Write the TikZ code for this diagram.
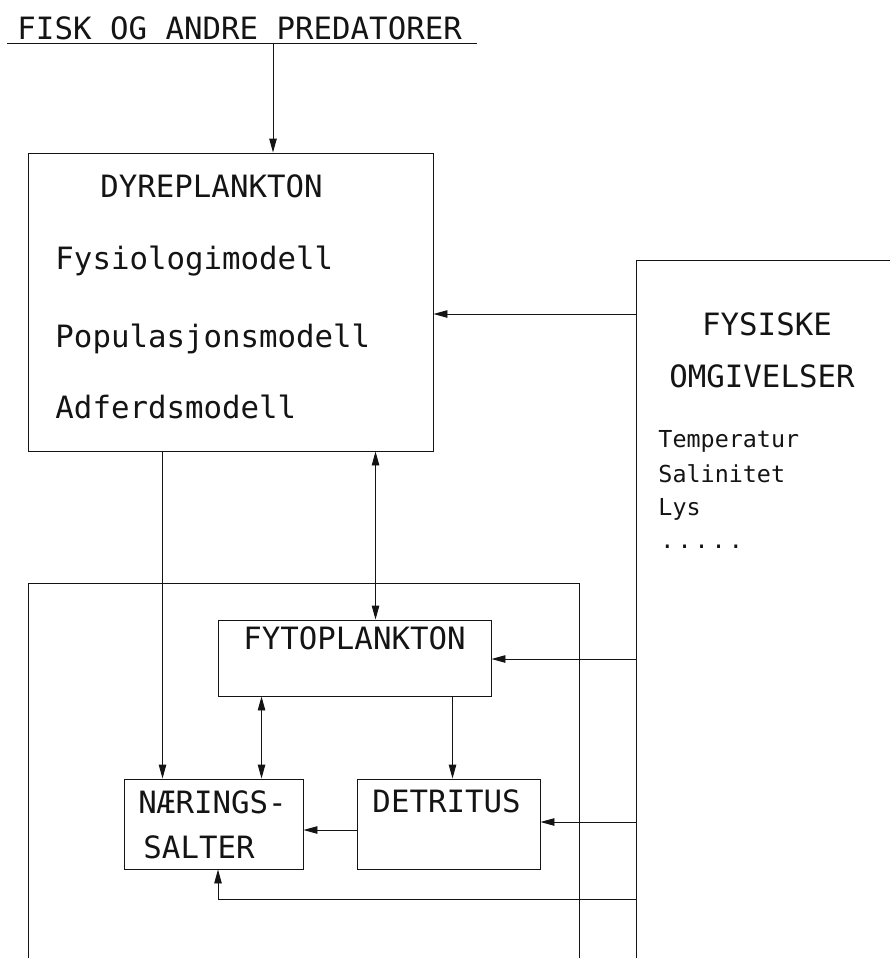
\documentclass[tikz,border=0pt]{standalone}
\usepackage{fontspec}
\newfontfamily\plotfont{DejaVu Sans Mono}
\usepackage{tikz}
\usetikzlibrary{arrows.meta,positioning,calc}
\definecolor{plotink}{RGB}{20,20,20}

\begin{document}
\begin{tikzpicture}[x=0.2mm, y=-0.2mm, line width=0.55pt, color=plotink,
  box/.style={draw, rectangle, inner sep=0pt},
  big/.style={font=\plotfont\fontsize{17.5}{20}\selectfont, inner sep=0pt},
  small/.style={font=\plotfont\fontsize{13.3}{15}\selectfont, inner sep=0pt},
  arr/.style={-{Triangle[length=2.8mm,width=1.5mm]}},
  dblarr/.style={{Triangle[length=2.8mm,width=1.5mm]}-{Triangle[length=2.8mm,width=1.5mm]}}]
  \useasboundingbox (0,0) rectangle (890,958);

  % predators
  \node[big, anchor=base west] (fisk) at (17,39) {FISK OG ANDRE PREDATORER};
  \coordinate (fiskL) at (7,43);
  \coordinate (fiskR) at (477,43);
  \coordinate (fiskpt) at (273,43);
  \draw (fiskL) -- (fiskR);

  % zooplankton box
  \node[box, minimum width=81mm, minimum height=59.6mm] (dyre) at (230.5,302) {};
  \node[big, anchor=base] (dyrenavn) at (211.5,197) {DYREPLANKTON};
  \node[big, anchor=base west] (fysio) at (55,269) {Fysiologimodell};
  \node[big, anchor=base west] (popul) at (55,347) {Populasjonsmodell};
  \node[big, anchor=base west] (adferd) at (55,418) {Adferdsmodell};

  % physical surroundings (open box)
  \coordinate (fysTL) at (636,260);
  \draw (636,958) -- (fysTL) -- (890,260);
  \node[big, anchor=base] (fysiske) at (767,335) {FYSISKE};
  \node[big, anchor=base] (omgiv) at (762,387) {OMGIVELSER};
  \node[small, anchor=base west] (temp) at (658,447) {Temperatur};
  \node[small, anchor=base west] (salt) at (658,482) {Salinitet};
  \node[small, anchor=base west] (lys) at (658,515) {Lys};
  \node[small, anchor=base west] (prikk) at (660,548)
    {.\kern0.6mm.\kern0.6mm.\kern0.6mm.\kern0.6mm.};

  % lower compartment
  \draw (28,958) |- (579,583) -- (579,958);
  \node[box, minimum width=54.6mm, minimum height=15.2mm] (fytop) at (354.5,658) {};
  \node[big, anchor=base] (fytonavn) at (354.5,649) {FYTOPLANKTON};
  \node[box, minimum width=35.8mm, minimum height=18mm] (naering) at (213.5,824) {};
  \node[big, anchor=base west] (naer1) at (138,813) {NÆRINGS-};
  \node[big, anchor=base west] (naer2) at (143,858) {SALTER};
  \node[box, minimum width=36.6mm, minimum height=18mm] (detritus) at (448.5,824) {};
  \node[big, anchor=base west] (detnavn) at (372,812) {DETRITUS};

  % flows
  \draw[arr] (fiskpt) -- (fiskpt |- dyre.north);
  \coordinate (fysA) at (636,314);
  \coordinate (fysB) at (636,659);
  \coordinate (fysC) at (636,822);
  \coordinate (fysD) at (636,899);
  \draw[arr] (fysA) -- (fysA -| dyre.east);
  \draw[arr] (fysB) -- (fysB -| fytop.east);
  \draw[arr] (fysC) -- (fysC -| detritus.east);
  \draw[arr] (fysD) -| ([xshift=0.9mm]naering.south);
  \draw[arr] ([xshift=27mm]dyre.south west) coordinate (a) -- (a |- naering.north);
  \draw[dblarr] ([xshift=69.6mm]dyre.south west) coordinate (b) -- (b |- fytop.north);
  \draw[dblarr] ([xshift=8.8mm]fytop.south west) coordinate (c) -- (c |- naering.north);
  \draw[arr] ([xshift=47mm]fytop.south west) coordinate (d) -- (d |- detritus.north);
  \draw[arr] ([yshift=-1.2mm]detritus.west) -- ([yshift=-1.2mm]naering.east);
\end{tikzpicture}
\end{document}
